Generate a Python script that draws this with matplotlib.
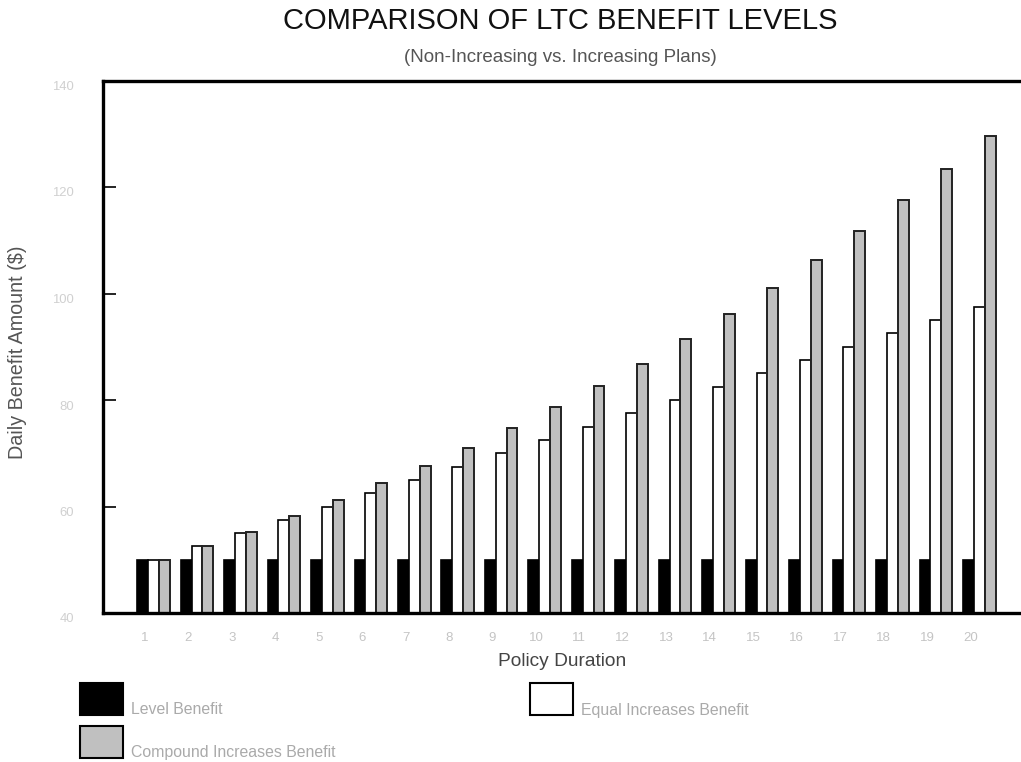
import matplotlib.pyplot as plt
import matplotlib.patches as mpatches
import matplotlib.transforms as mtransforms
import numpy as np

plt.rcParams['font.family'] = ['Liberation Sans', 'DejaVu Sans']

# Veriler
years = list(range(1, 21))
level_benefit = [50] * 20
equal_benefit = [50, 52.5, 55, 57.5, 60, 62.5, 65, 67.5, 70, 72.5,
                 75, 77.5, 80, 82.5, 85, 87.5, 90, 92.5, 95, 97.5]
compound_benefit = [50, 52.5, 55.2, 58.2, 61.2, 64.4, 67.6, 71.0, 74.8, 78.6,
                    82.6, 86.8, 91.4, 96.1, 101.0, 106.3, 111.7, 117.5, 123.4, 129.6]
series_names = ['Level Benefit', 'Equal Increases Benefit', 'Compound Increases Benefit']
series_colors = ['black', 'white', '#c0c0c0']
y_ticks = [40, 60, 80, 100, 120, 140]

fig = plt.figure(figsize=(10.21, 7.62), dpi=100)
ax = fig.add_axes([103 / 1021, 1 - 613 / 762, 1 - 103 / 1021, (613 - 80.5) / 762])

x = np.array(years)
w = 0.25
ax.bar(x - w, level_benefit, width=w, color=series_colors[0], edgecolor='black', linewidth=1.2)
ax.bar(x, equal_benefit, width=w, color=series_colors[1], edgecolor='black', linewidth=1.2)
ax.bar(x + w, compound_benefit, width=w, color=series_colors[2], edgecolor='#222222', linewidth=1.4)

ax.set_xlim(-0.162, 20.96)
ax.set_ylim(40, 140)

for s in ['left', 'top', 'bottom']:
    ax.spines[s].set_linewidth(2.4)
ax.spines['right'].set_visible(False)

ax.set_yticks(y_ticks)
ax.tick_params(axis='y', direction='in', length=9, width=1.2, pad=21,
               labelsize=9.4, labelcolor='#d0d0d0')
# etiketleri biraz aşağı kaydır
offset = mtransforms.ScaledTranslation(0, -5 / 100, fig.dpi_scale_trans)
for lbl in ax.get_yticklabels():
    lbl.set_transform(lbl.get_transform() + offset)

ax.set_xticks(x - 0.2)
ax.set_xticklabels([str(y) for y in years])
ax.tick_params(axis='x', length=0, pad=14, labelsize=9.5, labelcolor='#c4c4c4')

# Başlıklar
fig.text(0.549, 1 - 21 / 762, 'COMPARISON OF LTC BENEFIT LEVELS', ha='center', va='center',
         fontsize=21, color='#111111')
fig.text(0.549, 1 - 57 / 762, '(Non-Increasing vs. Increasing Plans)', ha='center', va='center',
         fontsize=13.5, color='#555555')
fig.text(18 / 1021, 1 - 352 / 762, 'Daily Benefit Amount ($)', rotation=90, ha='center', va='center',
         fontsize=14.2, color='#555555')
fig.text(562 / 1021, 1 - 661 / 762, 'Policy Duration', ha='center', va='center',
         fontsize=13.8, color='#444444')

# Lejant
legend_pos = [(80, 683, 131, 710), (530, 683, 581, 710), (80, 726, 131, 752)]
for (bx, by, tx, ty), name, col in zip(legend_pos, series_names, series_colors):
    rect = mpatches.Rectangle((bx / 1021, 1 - (by + 32) / 762), 43 / 1021, 32 / 762,
                              transform=fig.transFigure, facecolor=col, edgecolor='black',
                              linewidth=1.5)
    fig.add_artist(rect)
    fig.text(tx / 1021, 1 - ty / 762, name, ha='left', va='center', fontsize=11.4, color='#aaaaaa')

fig.savefig('out.png', dpi=100)
